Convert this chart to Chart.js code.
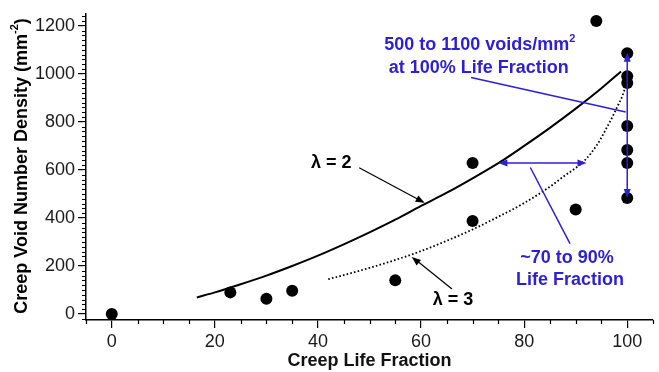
<!DOCTYPE html>
<html>
<head>
<meta charset="utf-8">
<script src="https://cdn.jsdelivr.net/npm/chart.js@4.4.1/dist/chart.umd.min.js"></script>
<style>
  html, body { margin: 0; padding: 0; background: #fff; }
  #wrap { width: 659px; height: 372px; }
</style>
</head>
<body>
<div id="wrap"><canvas id="myChart" width="659" height="372"></canvas></div>
<script>
// measured points (creep life fraction %, voids per mm2)
const lifeFraction = [0, 23, 30, 35, 55, 70, 70, 90, 94, 100, 100, 100, 100, 100, 100, 100];
const voidDensity = [0, 90, 63, 97, 140, 629, 387, 435, 1220, 1086, 990, 962, 783, 683, 629, 483];

// model curve lambda = 2 (solid)
const lambda2X = [16.5, 20, 25, 30, 35, 40, 45, 50, 55, 60, 65, 70, 75, 80, 85, 90, 95, 98.8];
const lambda2Y = [69, 90, 124, 160, 200, 243, 290, 340, 393, 450, 505, 565, 628, 700, 775, 855, 940, 1010];

// model curve lambda = 3 (dotted)
const lambda3X = [42, 45, 50, 55, 60, 65, 70, 75, 80, 85, 88, 90, 92, 94, 95, 96, 97, 98, 99, 99.8];
const lambda3Y = [145, 162, 192, 225, 262, 305, 352, 405, 462, 530, 578, 608, 645, 700, 735, 775, 815, 860, 905, 955];

const xTicks = [0, 20, 40, 60, 80, 100];
const yTicks = [0, 200, 400, 600, 800, 1000, 1200];

const FONT = "'Liberation Sans', Arial, sans-serif";
const BLUE = '#2c1fd6';

function toXY(xs, ys) {
  return xs.map((x, i) => ({ x: x, y: ys[i] }));
}

function arrowHead(ctx, x1, y1, x2, y2, color) {
  const a = Math.atan2(y2 - y1, x2 - x1);
  const len = 9, w = 3.5;
  ctx.save();
  ctx.fillStyle = color;
  ctx.beginPath();
  ctx.moveTo(x2, y2);
  ctx.lineTo(x2 - len * Math.cos(a) + w * Math.sin(a), y2 - len * Math.sin(a) - w * Math.cos(a));
  ctx.lineTo(x2 - len * Math.cos(a) - w * Math.sin(a), y2 - len * Math.sin(a) + w * Math.cos(a));
  ctx.closePath();
  ctx.fill();
  ctx.restore();
}

// text with optional superscript parts, centred on (cx, cy)
function richText(ctx, parts, cx, cy, color) {
  ctx.save();
  ctx.fillStyle = color;
  ctx.textBaseline = 'middle';
  ctx.textAlign = 'left';
  let total = 0;
  parts.forEach(p => {
    ctx.font = p.sup ? 'bold 11px ' + FONT : 'bold 18px ' + FONT;
    p.w = ctx.measureText(p.t).width;
    total += p.w;
  });
  let x = cx - total / 2;
  parts.forEach(p => {
    ctx.font = p.sup ? 'bold 11px ' + FONT : 'bold 18px ' + FONT;
    ctx.fillText(p.t, x, p.sup ? cy - 7 : cy);
    x += p.w;
  });
  ctx.restore();
}

const extras = {
  id: 'extras',
  afterDatasetsDraw(chart) {
    const ctx = chart.ctx;
    const xs = chart.scales.x, ys = chart.scales.y;
    const px = v => xs.getPixelForValue(v);
    const py = v => ys.getPixelForValue(v);
    const area = chart.chartArea;

    // minor ticks
    ctx.save();
    ctx.strokeStyle = '#000';
    ctx.lineWidth = 1.2;
    ctx.beginPath();
    for (let v = -5; v <= 105; v += 5) {
      if (v % 20 === 0) continue;
      const x = Math.round(px(v)) + 0.5;
      ctx.moveTo(x, area.bottom);
      ctx.lineTo(x, area.bottom + 4);
    }
    for (let v = -20; v <= 1240; v += 20) {
      if (v % 200 === 0) continue;
      const y = Math.round(py(v)) + 0.5;
      ctx.moveTo(area.left, y);
      ctx.lineTo(area.left - 4, y);
    }
    ctx.stroke();
    ctx.restore();

    function line(x1, y1, x2, y2, color, w) {
      ctx.save();
      ctx.strokeStyle = color;
      ctx.lineWidth = w;
      ctx.beginPath();
      ctx.moveTo(px(x1), py(y1));
      ctx.lineTo(px(x2), py(y2));
      ctx.stroke();
      ctx.restore();
    }

    // lambda labels + black arrows
    richText(ctx, [{ t: 'λ = 2' }], px(42.6), py(629), '#000');
    line(48.0, 609, 60.4, 466, '#000', 1.2);
    arrowHead(ctx, px(48.0), py(609), px(60.7), py(463), '#000');
    richText(ctx, [{ t: 'λ = 3' }], px(66.2), py(58), '#000');
    line(66.0, 104, 58.6, 232, '#000', 1.2);
    arrowHead(ctx, px(66.0), py(104), px(58.2), py(237), '#000');

    // blue annotations
    richText(ctx, [{ t: '500 to 1100 voids/mm' }, { t: '2', sup: true }], px(71.4), py(1118), BLUE);
    richText(ctx, [{ t: 'at 100% Life Fraction' }], px(71.2), py(1023), BLUE);
    line(69.7, 985, 99.7, 841, BLUE, 1.5);

    line(100, 1070, 100, 500, BLUE, 1.5);
    arrowHead(ctx, px(100), py(900), px(100), py(1088), BLUE);
    arrowHead(ctx, px(100), py(700), px(100), py(483), BLUE);

    line(76.5, 629, 90.6, 629, BLUE, 1.5);
    arrowHead(ctx, px(85), py(629), px(75.0), py(629), BLUE);
    arrowHead(ctx, px(80), py(629), px(92.1), py(629), BLUE);

    line(81.2, 610, 88.9, 293, BLUE, 1.5);
    richText(ctx, [{ t: '~70 to 90%' }], px(88.3), py(232), BLUE);
    richText(ctx, [{ t: 'Life Fraction' }], px(88.9), py(141), BLUE);

    // y axis title with superscript
    ctx.save();
    ctx.translate(22, 166);
    ctx.rotate(-Math.PI / 2);
    richText(ctx, [{ t: 'Creep Void Number Density (mm' }, { t: '-2', sup: true }, { t: ')' }], 0, 0, '#000');
    ctx.restore();
  }
};

const ctx = document.getElementById('myChart');

new Chart(ctx, {
  type: 'scatter',
  data: {
    datasets: [{
      label: 'data',
      data: toXY(lifeFraction, voidDensity),
      pointRadius: 6,
      pointHoverRadius: 6,
      backgroundColor: '#000',
      borderWidth: 0,
      showLine: false,
      order: 0
    }, {
      label: 'lambda 2',
      data: toXY(lambda2X, lambda2Y),
      showLine: true,
      pointRadius: 0,
      borderColor: '#000',
      borderWidth: 2,
      cubicInterpolationMode: 'monotone',
      order: 1
    }, {
      label: 'lambda 3',
      data: toXY(lambda3X, lambda3Y),
      showLine: true,
      pointRadius: 0,
      borderColor: '#000',
      borderWidth: 1.8,
      borderDash: [1.6, 2.2],
      cubicInterpolationMode: 'monotone',
      order: 2
    }]
  },
  options: {
    responsive: false,
    animation: false,
    devicePixelRatio: 1,
    layout: { padding: { top: 12, right: 0, left: 0, bottom: 0 } },
    plugins: {
      legend: { display: false },
      tooltip: { enabled: false }
    },
    scales: {
      x: {
        type: 'linear',
        min: -5,
        max: 105,
        afterBuildTicks: s => { s.ticks = xTicks.map(v => ({ value: v })); },
        afterFit: s => { s.height = 52; },
        grid: { drawOnChartArea: false, drawTicks: true, tickLength: 8, color: '#000', lineWidth: 1.2 },
        border: { display: true, color: '#000', width: 1.5 },
        ticks: { color: '#1a1a1a', padding: 3, font: { size: 18, family: FONT }, maxRotation: 0, callback: v => String(v) },
        title: { display: true, text: 'Creep Life Fraction', color: '#111', font: { size: 18, weight: 'bold', family: FONT }, padding: { top: 3, bottom: 0 } }
      },
      y: {
        type: 'linear',
        min: -25,
        max: 1250,
        afterBuildTicks: s => { s.ticks = yTicks.map(v => ({ value: v })); },
        afterFit: s => { s.width = 86; },
        grid: { drawOnChartArea: false, drawTicks: true, tickLength: 8, color: '#000', lineWidth: 1.2 },
        border: { display: true, color: '#000', width: 1.5 },
        ticks: { color: '#1a1a1a', padding: 3, font: { size: 18, family: FONT }, callback: v => String(v) }
      }
    }
  },
  plugins: [extras]
});
</script>
</body>
</html>
